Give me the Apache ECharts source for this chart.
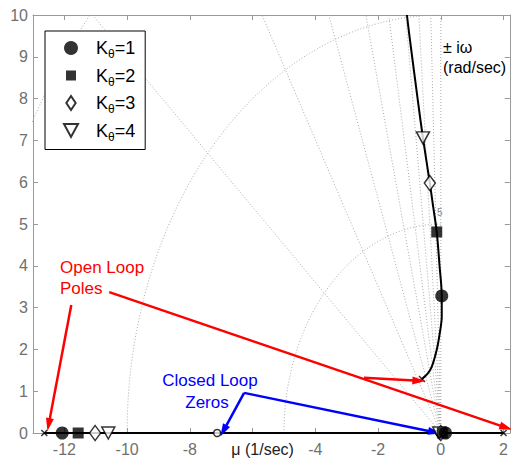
<!DOCTYPE html>
<html>
<head>
<meta charset="utf-8">
<script src="https://cdn.jsdelivr.net/npm/echarts@6/dist/echarts.min.js"></script>
<style>
  html, body { margin: 0; padding: 0; background: #fff; }
  #chart { width: 511px; height: 461px; }
</style>
</head>
<body>
<div id="chart"></div>
<script>
// Root locus of the lateral loop for four gain settings K_theta.
const gainNames = ['1', '2', '3', '4'];

// Closed-loop roots for each gain: far-left real root, root near the origin, complex root (upper half)
const rootsFarLeft = [-12.07, -11.56, -11.02, -10.6];
const rootsNearOrigin = [0.15, 0.05, 0.0, -0.05];
const rootsComplex = [[0.03, 3.28], [-0.13, 4.81], [-0.35, 5.98], [-0.57, 7.06]];

// Open-loop poles and closed-loop zeros
const openLoopPoles = [[-12.64, 0], [2.0, 0], [-0.6, 1.29]];
const closedLoopZeros = [[-7.13, 0], [-0.05, 0]];

// Locus branches
const locusReal = [[-12.64, 0], [2.0, 0]];
const locusComplex = [
  [-0.6, 1.29], [-0.42, 1.42], [-0.29, 1.58], [-0.13, 1.99], [-0.03, 2.4],
  [0.03, 2.78], [0.03, 3.28], [-0.04, 4.0], [-0.13, 4.81], [-0.26, 5.5],
  [-0.35, 5.98], [-0.57, 7.06], [-0.74, 8.0], [-1.0, 9.5], [-1.08, 10]
];

// Axis ticks
const xTicks = [-12, -10, -8, -6, -4, -2, 0, 2];
const yTicks = [0, 1, 2, 3, 4, 5, 6, 7, 8, 9, 10];

// s-plane grid: natural-frequency circles and constant-damping rays (x where each ray meets omega = 10)
const wnCircles = [5, 10, 15];
const zetaRayTopX = [-11.1, -5.7, -3.57, -2.39, -1.66, -1.12, -0.70, -0.32, 0];

// Annotation arrows [from, to]
const redArrows = [
  [[-10.57, 3.37], [2.08, 0.13]],
  [[-11.78, 3.06], [-12.5, 0.2]],
  [[-2.45, 1.32], [-0.7, 1.25]]
];
const blueArrows = [
  [[-6.27, 0.96], [-6.93, 0.05]],
  [[-6.27, 0.96], [-0.2, 0.02]]
];

const FONT = 'Liberation Sans, Arial, sans-serif';
const gridLineStyle = { color: '#aaa', width: 1, type: [1, 2] };

const series = [];

// dotted s-plane grid
wnCircles.forEach(function (r) {
  const pts = [];
  for (let i = 0; i <= 120; i++) {
    const a = Math.PI / 2 + (Math.PI / 2) * i / 120;
    pts.push([r * Math.cos(a), r * Math.sin(a)]);
  }
  series.push({ type: 'line', data: pts, showSymbol: false, silent: true, z: 1,
    lineStyle: gridLineStyle, clip: true });
});
zetaRayTopX.forEach(function (x) {
  series.push({ type: 'line', data: [[0, 0], [x, 10]], showSymbol: false, silent: true, z: 1,
    lineStyle: gridLineStyle, clip: true });
});

// locus branches
series.push({ type: 'line', data: locusReal, showSymbol: false, silent: true, z: 3,
  lineStyle: { color: '#000', width: 2 } });
series.push({ type: 'line', data: locusComplex, showSymbol: false, silent: true, z: 3, smooth: 0.3,
  lineStyle: { color: '#000', width: 2 } });

// poles (x) and zeros (o)
series.push({ type: 'scatter', data: openLoopPoles, silent: true, z: 4,
  symbol: 'path://M0,0L10,10M10,0L0,10', symbolSize: 6,
  itemStyle: { color: 'none', borderColor: '#000', borderWidth: 1.5 } });
series.push({ type: 'scatter', data: closedLoopZeros, silent: true, z: 4,
  symbol: 'circle', symbolSize: 7,
  itemStyle: { color: '#fff', borderColor: '#000', borderWidth: 1.5 } });

// closed-loop roots per gain (filled markers above the hollow ones)
const gainStyles = [
  { symbol: 'circle', symbolSize: 13, z: 6, itemStyle: { color: '#000' } },
  { symbol: 'rect', symbolSize: 11, z: 6, itemStyle: { color: '#000' } },
  { symbol: 'diamond', symbolSize: [11, 15], z: 5, itemStyle: { color: '#fff', borderColor: '#000', borderWidth: 1.5 } },
  { symbol: 'triangle', symbolSize: [13, 12], z: 5, symbolRotate: 180, itemStyle: { color: '#fff', borderColor: '#000', borderWidth: 1.5 } }
];
gainNames.forEach(function (g, i) {
  series.push(Object.assign({
    type: 'scatter', name: 'K' + g, silent: true,
    data: [[rootsFarLeft[i], 0], [rootsNearOrigin[i], 0], rootsComplex[i]]
  }, gainStyles[i]));
});

// annotation arrows
function arrowSeries(list, color) {
  return {
    type: 'line', data: [], silent: true, z: 7,
    markLine: {
      silent: true, symbol: ['none', 'triangle'], symbolSize: [8, 13],
      label: { show: false }, emphasis: { disabled: true },
      lineStyle: { color: color, width: 2.5, type: 'solid' },
      data: list.map(function (a) { return [{ coord: a[0] }, { coord: a[1] }]; })
    }
  };
}
series.push(arrowSeries(redArrows, '#ff0000'));
series.push(arrowSeries(blueArrows, '#0000ff'));

const axisColor = '#999';
const chart = echarts.init(document.getElementById('chart'), null, { renderer: 'svg' });
chart.setOption({
  animation: false,
  backgroundColor: '#fff',
  grid: { left: 33, right: 1, top: 15, bottom: 28 },
  xAxis: [
    {
      type: 'value', min: -13, max: 2.2, position: 'bottom',
      axisLine: { onZero: false, lineStyle: { color: axisColor } },
      axisTick: { inside: true, length: 5, customValues: xTicks, lineStyle: { color: axisColor } },
      splitLine: { show: false },
      axisLabel: {
        customValues: xTicks, color: '#707070', fontSize: 16, fontFamily: FONT, margin: 8,
        formatter: function (v) { return v === -6 ? '{u|μ (1/sec)}' : String(v); },
        rich: { u: { color: '#222', fontSize: 16, fontFamily: FONT, padding: [0, 0, 0, 20] } }
      }
    },
    {
      type: 'value', min: -13, max: 2.2, position: 'top',
      axisLine: { onZero: false, lineStyle: { color: axisColor } },
      axisTick: { inside: true, length: 5, customValues: xTicks, lineStyle: { color: axisColor } },
      axisLabel: { show: false }, splitLine: { show: false }
    }
  ],
  yAxis: [
    {
      type: 'value', min: 0, max: 10, interval: 1, position: 'left',
      axisLine: { show: true, onZero: false, lineStyle: { color: axisColor } },
      axisTick: { show: true, inside: true, length: 5, lineStyle: { color: axisColor } },
      splitLine: { show: false },
      axisLabel: { color: '#707070', fontSize: 16, fontFamily: FONT, margin: 5 }
    },
    {
      type: 'value', min: 0, max: 10, interval: 1, position: 'right',
      axisLine: { show: true, onZero: false, lineStyle: { color: axisColor } },
      axisTick: { show: true, inside: true, length: 5, lineStyle: { color: axisColor } },
      axisLabel: { show: false }, splitLine: { show: false }
    }
  ],
  legend: {
    orient: 'vertical', left: 45, top: 31,
    backgroundColor: '#fff', borderColor: '#000', borderWidth: 1,
    padding: [8, 10, 7, 18],
    itemWidth: 14, itemHeight: 14, itemGap: 6.5,
    selectedMode: false,
    data: [
      { name: 'K1', icon: 'circle' },
      { name: 'K2', icon: 'path://M0,0L0,0ZM2,2L12,2L12,12L2,12ZM14,14L14,14Z' },
      { name: 'K3', icon: 'path://M5,0L10,7.5L5,15L0,7.5Z' },
      { name: 'K4', icon: 'path://M0,0L12,0L6,11Z' }
    ],
    formatter: function (name) { return '{k0|K}{s|θ}{k|=' + name.slice(1) + '}'; },
    textStyle: {
      color: '#000', fontFamily: FONT,
      rich: {
        k0: { fontSize: 18, fontFamily: FONT, color: '#000', verticalAlign: 'middle', padding: [0, 0, 0, 13] },
        k: { fontSize: 18, fontFamily: FONT, color: '#000', verticalAlign: 'middle' },
        s: { fontSize: 12, fontFamily: FONT, color: '#000', padding: [12, 0, 0, 0], verticalAlign: 'top' }
      }
    }
  },
  graphic: [
    { type: 'text', left: 60, top: 259, style: { text: 'Open Loop', fill: '#ff0000', font: '17px ' + FONT } },
    { type: 'text', left: 60, top: 280, style: { text: 'Poles', fill: '#ff0000', font: '17px ' + FONT } },
    { type: 'text', x: 210, y: 380, style: { text: 'Closed Loop', fill: '#0000ff', font: '17px ' + FONT, align: 'center', verticalAlign: 'middle' } },
    { type: 'text', x: 207, y: 402, style: { text: 'Zeros', fill: '#0000ff', font: '17px ' + FONT, align: 'center', verticalAlign: 'middle' } },
    { type: 'text', x: 443, y: 47, style: { text: '± iω', fill: '#000', font: '16px ' + FONT, verticalAlign: 'middle' } },
    { type: 'text', x: 443, y: 67, style: { text: '(rad/sec)', fill: '#000', font: '16px ' + FONT, verticalAlign: 'middle' } },
    { type: 'text', x: 437, y: 212, style: { text: '5', fill: '#888', font: '10px ' + FONT, verticalAlign: 'middle' } }
  ],
  series: series
});
</script>
</body>
</html>
